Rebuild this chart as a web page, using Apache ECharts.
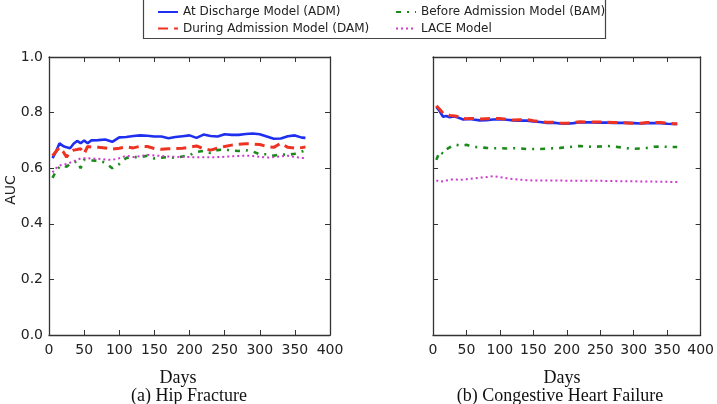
<!DOCTYPE html>
<html>
<head>
<meta charset="utf-8">
<script src="https://cdn.jsdelivr.net/npm/echarts@6/dist/echarts.min.js"></script>
<style>
html,body{margin:0;padding:0;background:#fff;}
#chart{width:717px;height:404px;}
</style>
</head>
<body>
<div id="chart"></div>
<script>
// ---- data ----
const days = [5,10,15,20,25,30,35,40,45,50,55,60,70,80,90,100,110,120,130,140,150,160,170,180,190,200,210,220,230,240,250,260,270,280,290,300,310,320,330,340,350,360,365];

const hipADM  = [0.636,0.660,0.690,0.680,0.675,0.672,0.688,0.698,0.690,0.700,0.690,0.700,0.701,0.703,0.695,0.711,0.712,0.716,0.718,0.717,0.714,0.714,0.708,0.712,0.715,0.718,0.709,0.721,0.716,0.714,0.722,0.720,0.720,0.723,0.725,0.722,0.714,0.706,0.707,0.715,0.718,0.710,0.709];
const hipDAM  = [0.645,0.660,0.675,0.660,0.640,0.658,0.665,0.667,0.670,0.652,0.678,0.676,0.675,0.673,0.669,0.672,0.677,0.673,0.679,0.678,0.671,0.668,0.670,0.671,0.672,0.675,0.680,0.670,0.665,0.672,0.678,0.683,0.686,0.688,0.687,0.685,0.678,0.675,0.690,0.675,0.672,0.674,0.676];
const hipBAM  = [0.565,0.590,0.605,0.610,0.605,0.615,0.620,0.625,0.600,0.630,0.628,0.628,0.627,0.620,0.600,0.615,0.637,0.640,0.640,0.645,0.635,0.638,0.640,0.637,0.642,0.647,0.658,0.662,0.655,0.665,0.668,0.663,0.662,0.665,0.660,0.650,0.650,0.645,0.650,0.648,0.652,0.660,0.665];
const hipLACE = [0.585,0.600,0.610,0.612,0.615,0.620,0.625,0.630,0.635,0.636,0.636,0.635,0.634,0.631,0.630,0.636,0.645,0.640,0.643,0.648,0.646,0.644,0.642,0.641,0.640,0.640,0.639,0.639,0.639,0.640,0.641,0.643,0.644,0.645,0.644,0.641,0.638,0.640,0.643,0.645,0.640,0.637,0.637];

const chfADM  = [0.820,0.805,0.785,0.788,0.783,0.786,0.784,0.780,0.775,0.776,0.777,0.775,0.772,0.773,0.775,0.776,0.774,0.772,0.771,0.771,0.768,0.766,0.763,0.764,0.761,0.760,0.762,0.765,0.765,0.765,0.764,0.764,0.763,0.763,0.763,0.762,0.761,0.762,0.762,0.762,0.760,0.759,0.759];
const chfDAM  = [0.825,0.812,0.798,0.797,0.790,0.789,0.787,0.784,0.779,0.778,0.779,0.779,0.777,0.778,0.779,0.779,0.776,0.773,0.774,0.775,0.771,0.768,0.765,0.765,0.763,0.762,0.764,0.767,0.766,0.766,0.766,0.765,0.764,0.764,0.763,0.762,0.762,0.764,0.765,0.764,0.762,0.760,0.760];
const chfBAM  = [0.630,0.660,0.652,0.668,0.675,0.683,0.684,0.682,0.682,0.684,0.680,0.677,0.675,0.673,0.672,0.672,0.671,0.672,0.671,0.669,0.669,0.669,0.670,0.672,0.673,0.675,0.678,0.680,0.678,0.677,0.678,0.680,0.678,0.675,0.672,0.670,0.671,0.673,0.677,0.678,0.677,0.676,0.676];
const chfLACE = [0.556,0.551,0.553,0.556,0.558,0.560,0.559,0.558,0.559,0.560,0.562,0.563,0.566,0.568,0.571,0.568,0.564,0.561,0.559,0.557,0.556,0.556,0.556,0.556,0.556,0.555,0.555,0.555,0.555,0.555,0.555,0.554,0.554,0.553,0.553,0.553,0.552,0.552,0.552,0.551,0.551,0.550,0.550];

const xTicks = [0,50,100,150,200,250,300,350,400];
const yTicks = [0.0,0.2,0.4,0.6,0.8,1.0];

const seriesNames = ['At Discharge Model (ADM)','During Admission Model (DAM)','Before Admission Model (BAM)','LACE Model'];
const panelTitles = ['(a) Hip Fracture','(b) Congestive Heart Failure'];
const xLabel = 'Days';
const yLabel = 'AUC';

// ---- styles ----
const styles = [
  {color:'#1e2ff0', width:2.6, type:'solid'},
  {color:'#ee3322', width:3, type:[10,6]},
  {color:'#1b8a1b', width:2.6, type:[5,6,2,6]},
  {color:'#cc3ccc', width:2, type:[2,3]}
];

const zip = (xs, ys) => xs.map((x,i)=>[x, ys[i]]);
const panels = [[hipADM,hipDAM,hipBAM,hipLACE],[chfADM,chfDAM,chfBAM,chfLACE]];

const axisLine = {show:true, onZero:false, lineStyle:{color:'#333', width:1.3}};
const tickStyle = {show:true, inside:true, length:5, lineStyle:{color:'#333', width:1}};
const labelFont = {fontFamily:'DejaVu Sans', fontSize:14, color:'#222'};

const grids = [
  {left:49, top:57, width:281, height:278},
  {left:433, top:57, width:271, height:278}
];

const xAxes = [], yAxes = [];
for (let g=0; g<2; g++) {
  xAxes.push({type:'value', gridIndex:g, min:0, max:400, interval:50, position:'bottom',
    axisLine, axisTick:tickStyle, splitLine:{show:false},
    axisLabel:{...labelFont, margin:8, customValues: xTicks}});
  xAxes.push({type:'value', gridIndex:g, min:0, max:400, interval:50, position:'top',
    axisLine, axisTick:tickStyle, splitLine:{show:false}, axisLabel:{show:false}});
  yAxes.push({type:'value', gridIndex:g, min:0, max:1, interval:0.2, position:'left',
    axisLine, axisTick:tickStyle, splitLine:{show:false},
    axisLabel: g===0 ? {...labelFont, margin:6, formatter:v=>v.toFixed(1)} : {show:false}});
  yAxes.push({type:'value', gridIndex:g, min:0, max:1, interval:0.2, position:'right',
    axisLine, axisTick:tickStyle, splitLine:{show:false}, axisLabel:{show:false}});
}

const series = [];
panels.forEach((vals, g) => {
  vals.forEach((v, k) => {
    series.push({
      type:'line', name:seriesNames[k], xAxisIndex:g*2, yAxisIndex:g*2,
      data: zip(days, v), showSymbol:false, symbol:'none', smooth:false,
      lineStyle:{color:styles[k].color, width:styles[k].width, type:styles[k].type},
      itemStyle:{color:styles[k].color},
      z: 2 + k,
      animation:false
    });
  });
});

const legendText = {fontFamily:'DejaVu Sans', fontSize:12, color:'#222'};
const legendCommon = {orient:'vertical', top:1, itemWidth:20, itemHeight:12, itemGap:4.5,
  textStyle:legendText, selectedMode:false, itemStyle:{opacity:0, borderWidth:0}};

const graphics = [
  {type:'rect', shape:{x:143.5, y:-1, width:462, height:39.5}, style:{fill:'none', stroke:'#444', lineWidth:1.2}, z:100},
  {type:'text', x:11, y:190, rotation:Math.PI/2, style:{text:yLabel, font:'14px "DejaVu Sans"', fill:'#222', align:'center', verticalAlign:'middle'}},
  {type:'text', x:178, y:378, style:{text:xLabel, font:'18px "Liberation Serif"', fill:'#111', align:'center', verticalAlign:'middle'}},
  {type:'text', x:189, y:396, style:{text:panelTitles[0], font:'18px "Liberation Serif"', fill:'#111', align:'center', verticalAlign:'middle'}},
  {type:'text', x:562, y:378, style:{text:xLabel, font:'18px "Liberation Serif"', fill:'#111', align:'center', verticalAlign:'middle'}},
  {type:'text', x:560, y:396, style:{text:panelTitles[1], font:'18px "Liberation Serif"', fill:'#111', align:'center', verticalAlign:'middle'}}
];

const chart = echarts.init(document.getElementById('chart'), null, {renderer:'canvas'});
chart.setOption({
  animation:false,
  backgroundColor:'#fff',
  grid: grids,
  xAxis: xAxes,
  yAxis: yAxes,
  legend: [
    {...legendCommon, data:[seriesNames[0],seriesNames[1]], left:152},
    {...legendCommon, data:[seriesNames[2],seriesNames[3]], left:390}
  ],
  series,
  graphic: graphics
});
</script>
</body>
</html>
